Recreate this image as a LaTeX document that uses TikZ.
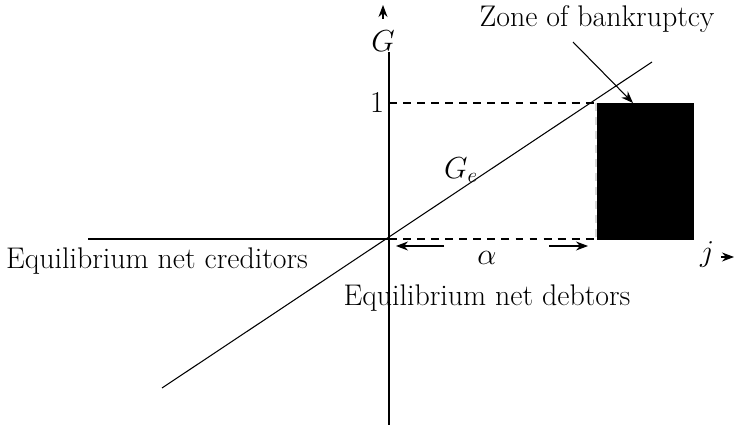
\documentclass[tikz,border=0pt]{standalone}
\usepackage{tikz}
\usetikzlibrary{arrows.meta, positioning, calc}

\begin{document}
\begin{tikzpicture}[
    x=0.02cm, y=-0.02cm,
    % Styles
    axisline/.style={semithick, draw=black},
    guide/.style={semithick, draw=black, dashed, dash pattern=on 4.5pt off 3.5pt},
    tipline/.style={-{Stealth[length=2.4mm, width=1.8mm]}, semithick, draw=black},
    lbl/.style={font=\fontsize{17}{20}\selectfont, inner sep=1pt},
    zone/.style={fill=black, draw=black},
]
\useasboundingbox (0,0) rectangle (734,432);

% ============================================================================
% AXES
% ============================================================================
\coordinate (origin) at (389,239);
\coordinate (ytop) at (389,52);
\coordinate (ybot) at (389,425);
\coordinate (xleft) at (88,239);
\coordinate (xend) at (596,239);
\draw[axisline] (ytop) -- (ybot);
\draw[axisline] (xleft) -- (origin);
\draw[guide] (origin) -- (xend);

% Axis labels with their small arrows
\node[lbl] (glabel) at (383,41) {$G$};
\coordinate (garrowfrom) at (383,19);
\coordinate (garrowto) at (383,5);
\draw[tipline] (garrowfrom) -- (garrowto);

\node[lbl] (jlabel) at (707,255) {$j$};
\coordinate (jarrowfrom) at (721,257);
\coordinate (jarrowto) at (734,257);
\draw[tipline] (jarrowfrom) -- (jarrowto);

% ============================================================================
% LEVEL ONE AND ZONE OF BANKRUPTCY
% ============================================================================
\node[lbl] (one) at (377,103) {$1$};
\coordinate (oneaxis) at (389,103);
\coordinate (cornertop) at (596,103);
\draw[guide] (oneaxis) -- (cornertop);

\coordinate (zonetl) at (597,103);
\coordinate (zonebr) at (693,239);
\filldraw[zone] (zonetl) rectangle (zonebr);
\draw[guide, draw=white!85!black] (cornertop) -- (xend);

\node[lbl] (zonetext) at (597,19) {Zone of bankruptcy};
\coordinate (zonefrom) at (573,42);
\coordinate (zoneto) at (633,103);
\draw[tipline] (zonefrom) -- (zoneto);

% ============================================================================
% EQUILIBRIUM LINE
% ============================================================================
\coordinate (gelow) at (162,388);
\coordinate (gehigh) at (652,62);
\draw[axisline] (gelow) -- (gehigh);
\node[lbl] (ge) at (461,170) {$G_e$};

% ============================================================================
% ALPHA INTERVAL
% ============================================================================
\coordinate (alphaleft) at (396,246);
\coordinate (alphalin) at (444,246);
\coordinate (alpharin) at (549,246);
\coordinate (alpharight) at (588,246);
\draw[tipline] (alphalin) -- (alphaleft);
\draw[tipline] (alpharin) -- (alpharight);
\node[lbl] (alpha) at (487,258) {$\alpha$};

% ============================================================================
% REGION LABELS
% ============================================================================
\node[lbl] (creditors) at (157,261) {Equilibrium net creditors};
\node[lbl] (debtors) at (487,298) {Equilibrium net debtors};

\end{tikzpicture}
\end{document}
